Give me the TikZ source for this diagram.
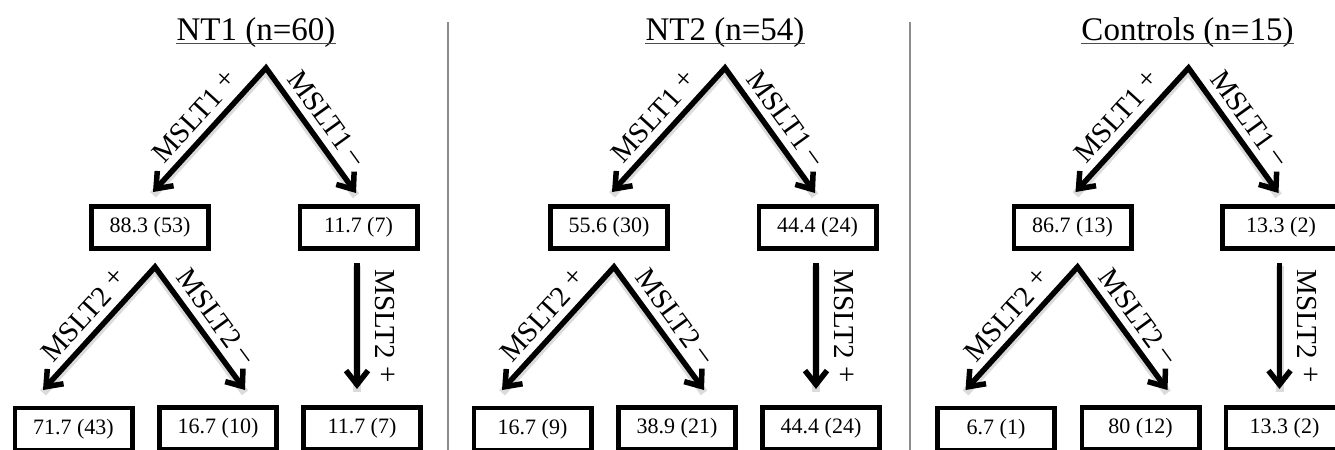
\documentclass[tikz,border=0pt]{standalone}
\usepackage{fontspec}
\setmainfont{Liberation Serif}
\usetikzlibrary{arrows.meta}
\tikzset{
  valbox/.style={draw, line width=2.4pt, minimum width=58.6pt, minimum height=21.1pt,
    inner sep=0pt, font=\fontsize{11}{13}\selectfont},
  barb/.tip={Straight Barb[length=7pt,width=11pt]},
  arr/.style={line width=2.75pt, -barb, line join=miter, miter limit=10},
  dbl/.style={line width=2.75pt, barb-barb, line join=miter, miter limit=10},
  shad/.style={draw=black!14, line width=4pt, line join=round, transform canvas={yshift=-1.4pt}},
  lab/.style={font=\fontsize{14.5}{16}\selectfont, inner sep=3.5pt},
  vlab/.style={font=\fontsize{14.5}{16}\selectfont, inner sep=7.5pt, rotate=-90, anchor=south},
  ttl/.style={font=\fontsize{16.5}{19}\selectfont, inner sep=0pt, anchor=base},
  uline/.style={draw=black!70, line width=0.7pt},
  divider/.style={draw=black!45, line width=0.8pt}
}
\newcommand\upsign[1]{\raisebox{0.12em}{#1}}
% #1 x offset (px), #2 name suffix, #3..#7 box texts
\newcommand\drawpanel[7]{%
  \coordinate (A#2) at (#1+266,68);
  \coordinate (lt#2) at (#1+153,192);
  \coordinate (rt#2) at (#1+356,193);
  \coordinate (B#2) at (#1+155,267);
  \coordinate (blt#2) at (#1+43,390);
  \coordinate (brt#2) at (#1+245,390);
  \coordinate (vt#2) at (#1+357,263);
  \coordinate (vb#2) at (#1+357,389);
  % soft shadows
  \draw[shad] (lt#2) -- (A#2) -- (rt#2);
  \draw[shad] (blt#2) -- (B#2) -- (brt#2);
  \draw[shad] (vt#2) -- (vb#2);
  \node[valbox] (L#2) at (#1+150,227.5) {#3};
  \node[valbox] (R#2) at (#1+358.5,227.5) {#4};
  \draw[dbl] (lt#2) -- node[lab, sloped, above]{MSLT1 \upsign{+}} (A#2)
                    -- node[lab, sloped, above]{MSLT1 \upsign{–}} (rt#2);
  \draw[dbl] (blt#2) -- node[lab, sloped, above]{MSLT2 \upsign{+}} (B#2)
                     -- node[lab, sloped, above]{MSLT2 \upsign{–}} (brt#2);
  \draw[arr] (vt#2) -- node[vlab]{MSLT2 \upsign{+}} (vb#2);
  \node[valbox] (BL#2) at (#1+73.5,429) {#5};
  \node[valbox] (BM#2) at (#1+218,428.5) {#6};
  \node[valbox] (BR#2) at (#1+362,428.5) {#7};
}
\begin{document}
\begin{tikzpicture}[x=0.5pt,y=-0.5pt]
\useasboundingbox (0,0) rectangle (1335,450);
\clip (0,0) rectangle (1335,450);
\fill[white] (0,0) rectangle (1335,450);
% dividers
\coordinate (d1t) at (448,22); \coordinate (d1b) at (448,452);
\coordinate (d2t) at (910,22); \coordinate (d2b) at (910,452);
\draw[divider] (d1t) -- (d1b);
\draw[divider] (d2t) -- (d2b);
% titles
\node[ttl] (t1) at (256,40) {NT1 (n=60)};
\node[ttl] (t2) at (725,40) {NT2 (n=54)};
\node[ttl] (t3) at (1187.5,40) {Controls (n=15)};
\foreach \t in {t1,t2,t3}
  \draw[uline] ([yshift=-1.8pt]\t.base west) -- ([yshift=-1.8pt]\t.base east);
% panels
\drawpanel{0}{a}{88.3 (53)}{11.7 (7)}{71.7 (43)}{16.7 (10)}{11.7 (7)}
\drawpanel{459}{b}{55.6 (30)}{44.4 (24)}{16.7 (9)}{38.9 (21)}{44.4 (24)}
\drawpanel{922.5}{c}{86.7 (13)}{13.3 (2)}{6.7 (1)}{80 (12)}{13.3 (2)}
\end{tikzpicture}
\end{document}
